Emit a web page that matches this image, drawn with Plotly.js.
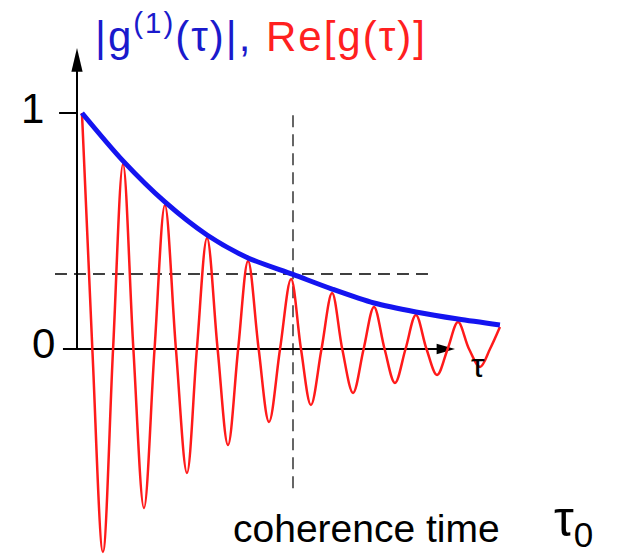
<!DOCTYPE html>
<html>
<head>
<meta charset="utf-8">
<script src="https://cdn.plot.ly/plotly-3.0.1.min.js"></script>
<style>
  html, body { margin: 0; padding: 0; background: #ffffff; }
  #chart { width: 623px; height: 555px; }
  /* slightly open letter spacing for the heading */
  g.annotation[data-index="5"] text { letter-spacing: 2px; }
</style>
</head>
<body>
<div id="chart"></div>
<script>
// Delay tau in units of the coherence time tau0
const reTau = [
  0.023, 0.071, 0.120, 0.167, 0.213, 0.261, 0.310, 0.359, 0.407, 0.458,
  0.509, 0.555, 0.602, 0.651, 0.699, 0.746, 0.792, 0.841, 0.889, 0.940,
  0.991, 1.037, 1.083, 1.132, 1.181, 1.228, 1.278, 1.327, 1.375, 1.424,
  1.472, 1.521, 1.569, 1.618, 1.667, 1.716, 1.764, 1.815, 1.866, 1.912,
  1.958
];
// Re[g(tau)]: damped oscillation (extrema and zero crossings)
const reVal = [
  1.000, 0.000, -0.860, 0.000, 0.784, 0.000, -0.674, 0.000, 0.610, 0.000,
  -0.525, 0.000, 0.470, 0.000, -0.407, 0.000, 0.373, 0.000, -0.309, 0.000,
  0.297, 0.000, -0.237, 0.000, 0.237, 0.000, -0.186, 0.000, 0.178, 0.000,
  -0.144, 0.000, 0.144, 0.000, -0.110, 0.000, 0.114, 0.000, -0.076, 0.000,
  0.093
];
// |g(1)(tau)|: envelope
const envTau = [0.023, 0.213, 0.407, 0.602, 0.792, 1.000, 1.181, 1.375, 1.569, 1.764, 1.958];
const envVal = [1.000, 0.797, 0.623, 0.483, 0.386, 0.316, 0.254, 0.195, 0.157, 0.127, 0.102];

// Axis labels and marker lines
const yTickVals = [0, 1];
const yTickText = ['0', '1'];
const tau0 = 1.0;
const levelAtTau0 = 0.318;

// Plot geometry (data units)
const X_RANGE = [-0.3565, 2.5278];
const Y_RANGE = [-0.8729, 1.4788];
const xAxisStart = -0.065, xAxisEnd = 1.75;
const yAxisEnd = 1.275;
const tickLeft = -0.083;
const FONT = 'Liberation Sans, Arial, sans-serif';
const BLUE = '#1414f0';
const RED = '#ff1a1a';

const traces = [
  {
    x: reTau, y: reVal, type: 'scatter', mode: 'lines',
    line: { color: RED, width: 2.5, shape: 'spline', smoothing: 1 },
    hoverinfo: 'skip'
  },
  {
    x: envTau, y: envVal, type: 'scatter', mode: 'lines',
    line: { color: BLUE, width: 5, shape: 'spline', smoothing: 0.8 },
    hoverinfo: 'skip'
  }
];

const black = { color: '#000000', width: 2 };
const shapes = [
  // x axis
  { type: 'line', layer: 'below', x0: xAxisStart, x1: xAxisEnd - 0.02, y0: 0, y1: 0, line: black },
  { type: 'path', layer: 'below', fillcolor: '#000', line: { width: 0 },
    path: `M ${xAxisEnd} 0 L ${xAxisEnd - 0.085} 0.022 L ${xAxisEnd - 0.085} -0.022 Z` },
  // y axis
  { type: 'line', layer: 'below', x0: 0, x1: 0, y0: 0, y1: yAxisEnd - 0.03, line: black },
  { type: 'path', layer: 'below', fillcolor: '#000', line: { width: 0 },
    path: `M 0 ${yAxisEnd} L -0.026 ${yAxisEnd - 0.1} L 0.026 ${yAxisEnd - 0.1} Z` },
  // tick at 1
  { type: 'line', layer: 'below', x0: tickLeft, x1: 0, y0: yTickVals[1], y1: yTickVals[1], line: black },
  // coherence-time markers
  { type: 'line', layer: 'below', x0: -0.102, x1: 1.657, y0: levelAtTau0, y1: levelAtTau0,
    line: { color: '#000', width: 1.5, dash: '12px,7px' } },
  { type: 'line', layer: 'below', x0: tau0, x1: tau0, y0: 0.99, y1: -0.62,
    line: { color: '#000', width: 1.2, dash: '12px,7px' } }
];

const annotations = [
  { x: -0.145, y: yTickVals[1], xanchor: 'right', yanchor: 'middle', yshift: 5, showarrow: false,
    text: yTickText[1], font: { family: FONT, size: 42, color: '#000' } },
  { x: -0.093, y: yTickVals[0], xanchor: 'right', yanchor: 'middle', yshift: 6, showarrow: false,
    text: yTickText[0], font: { family: FONT, size: 42, color: '#000' } },
  { x: 1.857, y: 0, xanchor: 'center', yanchor: 'middle', yshift: -16, showarrow: false,
    text: 'τ', font: { family: FONT, size: 34, color: '#000' } },
  { xref: 'paper', yref: 'paper', x: 231 / 623, y: 1 - 505 / 555, xanchor: 'left', yanchor: 'top',
    showarrow: false, text: 'coherence time',
    font: { family: FONT, size: 39, color: '#000' } },
  { xref: 'paper', yref: 'paper', x: 552 / 623, y: 1 - 489 / 555, xanchor: 'left', yanchor: 'top',
    showarrow: false, text: 'τ<sub>0</sub>',
    font: { family: FONT, size: 50, color: '#000' } },
  { xref: 'paper', yref: 'paper', x: 112 / 623, y: 1 - 4 / 555, xanchor: 'left', yanchor: 'top',
    showarrow: false,
    text: '<span style="color:#1a1acc">|g<sup>(1)</sup>(τ)|, </span><span style="color:#ff2020">Re[g(τ)]</span>',
    font: { family: FONT, size: 42, color: '#1a1acc' } }
];

const layout = {
  width: 623, height: 555,
  margin: { l: 0, r: 0, t: 0, b: 0 },
  paper_bgcolor: '#ffffff', plot_bgcolor: '#ffffff',
  showlegend: false,
  xaxis: { range: X_RANGE, visible: false, fixedrange: true },
  yaxis: { range: Y_RANGE, visible: false, fixedrange: true },
  shapes: shapes,
  annotations: annotations
};

Plotly.newPlot('chart', traces, layout, { staticPlot: true, displayModeBar: false });
</script>
</body>
</html>
